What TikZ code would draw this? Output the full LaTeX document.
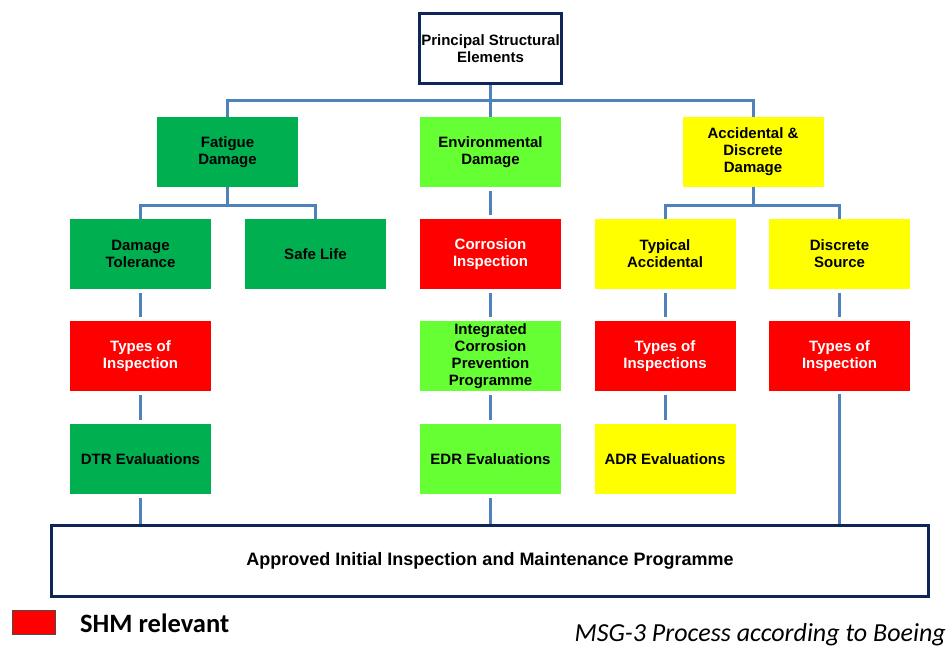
\documentclass[tikz,border=0pt]{standalone}
\usepackage{fontspec}
\setmainfont{Liberation Sans}
\newfontfamily\calfont{Carlito}
\definecolor{dkgreen}{HTML}{00B050}
\definecolor{ltgreen}{HTML}{66FF33}
\definecolor{ylw}{HTML}{FFFF00}
\definecolor{rd}{HTML}{FF0000}
\definecolor{navy}{HTML}{0F2557}
\definecolor{conn}{HTML}{4F81BD}
\begin{document}
\begin{tikzpicture}[x=1pt,y=-1pt,
  box/.style={minimum width=141pt,minimum height=70pt,inner sep=1pt,align=center,
    font=\fontsize{15}{17}\selectfont\bfseries,draw=none},
  dg/.style={box,fill=dkgreen},
  lg/.style={box,fill=ltgreen},
  yl/.style={box,fill=ylw},
  rdb/.style={box,fill=rd,text=white},
  wire/.style={draw=conn,line width=3pt},
  gapwire/.style={wire,shorten >=4pt,shorten <=4pt}]
\useasboundingbox (0,0) rectangle (949,648);
% nodes
\node[box,draw=navy,line width=3pt,fill=white,minimum width=142pt,minimum height=70pt] (pse) at (490.5,48.5) {Principal Structural\\Elements};
\node[dg] (fat) at (227.5,152) {Fatigue\\Damage};
\node[lg] (env) at (490.5,152) {Environmental\\Damage};
\node[yl] (acc) at (753,152) {Accidental \&\\Discrete\\Damage};
\node[dg] (dt) at (140.5,254) {Damage\\Tolerance};
\node[dg] (sl) at (315.5,254) {Safe Life};
\node[rdb] (ci) at (490.5,254) {Corrosion\\Inspection};
\node[yl] (ta) at (665,254) {Typical\\Accidental};
\node[yl] (ds) at (839.5,254) {Discrete\\Source};
\node[rdb] (ti1) at (140.5,356) {Types of\\Inspection};
\node[lg] (icp) at (490.5,356) {Integrated\\Corrosion\\Prevention\\Programme};
\node[rdb] (ti2) at (665,356) {Types of\\Inspections};
\node[rdb] (ti3) at (839.5,356) {Types of\\Inspection};
\node[dg] (dtr) at (140.5,459) {DTR Evaluations};
\node[lg] (edr) at (490.5,459) {EDR Evaluations};
\node[yl] (adr) at (665,459) {ADR Evaluations};
\node[draw=navy,line width=3pt,fill=white,minimum width=877pt,minimum height=71pt,
  font=\fontsize{18}{20}\selectfont\bfseries] (aip) at (490,561) {Approved Initial Inspection and Maintenance Programme};
% connectors
\coordinate (b1) at (490.5,100);
\draw[wire] (pse.south) -- (env.north);
\draw[wire] (fat.north) |- (b1) -| (acc.north);
\coordinate (b2) at (227.5,205);
\draw[wire] (fat.south) -- (b2);
\draw[wire] (dt.north) |- (b2) -| (sl.north);
\coordinate (b3) at (753,205);
\draw[wire] (acc.south) -- (b3);
\draw[wire] (ta.north) |- (b3) -| (ds.north);
\draw[gapwire] (env.south) -- (ci.north);
\draw[gapwire] (dt.south) -- (ti1.north);
\draw[gapwire] (ti1.south) -- (dtr.north);
\draw[gapwire] (ci.south) -- (icp.north);
\draw[gapwire] (icp.south) -- (edr.north);
\draw[gapwire] (ta.south) -- (ti2.north);
\draw[gapwire] (ti2.south) -- (adr.north);
\draw[gapwire] (ds.south) -- (ti3.north);
\draw[wire,shorten <=4pt] (dtr.south) -- (dtr.south |- aip.north);
\draw[wire,shorten <=4pt] (edr.south) -- (edr.south |- aip.north);
\draw[wire,shorten <=3pt] (ti3.south) -- (ti3.south |- aip.north);
% legend
\node[draw=black!70,line width=0.8pt,fill=rd,minimum width=43pt,minimum height=24pt,inner sep=0pt] (leg) at (34,622.5) {};
\node[anchor=base west,inner sep=0pt,font=\calfont\fontsize{26.5}{28}\selectfont\bfseries] (legt) at (80,632) {SHM relevant};
\node[anchor=base east,inner sep=0pt,font=\calfont\fontsize{26}{28}\selectfont\itshape] (cap) at (946,641) {MSG-3 Process according to Boeing};
\end{tikzpicture}
\end{document}
